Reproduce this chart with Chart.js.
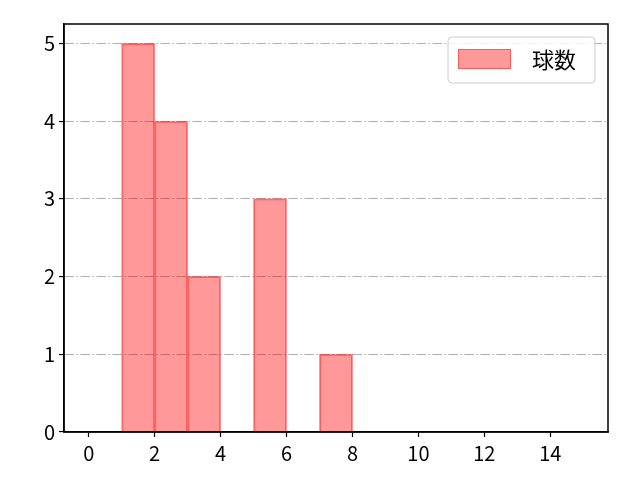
<!DOCTYPE html>
<html>
<head>
<meta charset="utf-8">
<script src="https://cdn.jsdelivr.net/npm/chart.js@4"></script>
<style>
html,body{margin:0;padding:0;background:#fff;}
#wrap{width:640px;height:480px;}
</style>
</head>
<body>
<div id="wrap"><canvas id="c" width="640" height="480"></canvas></div>
<script>
const binStarts = [0,1,2,3,4,5,6,7,8,9,10,11,12,13,14];
const counts    = [0,5,4,2,0,3,0,1,0,0,0,0,0,0,0];
const seriesLabel = '球数';
const xTicks = [0,2,4,6,8,10,12,14];
const yTicks = [0,1,2,3,4,5];

const FONT = '"Noto Sans CJK JP", "DejaVu Sans", sans-serif';
const FILL = 'rgba(255,0,0,0.4)';
const EDGE = 'rgba(255,0,0,0.42)';

const points = binStarts.map((s,i)=>({x:s+0.5, y:counts[i]}));

const framePlugin = {
  id:'frame',
  afterDraw(chart){
    const {ctx, chartArea:a} = chart;
    ctx.save();
    ctx.strokeStyle = '#000';
    ctx.lineWidth = 1.5;
    ctx.strokeRect(a.left, a.top, a.right-a.left, a.bottom-a.top);
    // legend
    const x0=448, y0=37, w=147, h=46, r=4;
    ctx.beginPath();
    ctx.moveTo(x0+r,y0);
    ctx.arcTo(x0+w,y0,x0+w,y0+h,r);
    ctx.arcTo(x0+w,y0+h,x0,y0+h,r);
    ctx.arcTo(x0,y0+h,x0,y0,r);
    ctx.arcTo(x0,y0,x0+w,y0,r);
    ctx.closePath();
    ctx.fillStyle='rgba(255,255,255,0.8)';
    ctx.fill();
    ctx.strokeStyle='#cccccc';
    ctx.lineWidth=1;
    ctx.stroke();
    ctx.fillStyle=FILL;
    ctx.fillRect(458,49,53,20);
    ctx.strokeStyle=EDGE;
    ctx.strokeRect(458.5,49.5,52,19);
    ctx.fillStyle='#000';
    ctx.font='22px '+FONT;
    ctx.textBaseline='middle';
    ctx.textAlign='left';
    ctx.fillText(chart.data.datasets[0].label, 532, 60);
    ctx.restore();
  }
};

new Chart(document.getElementById('c'), {
  type:'bar',
  data:{
    datasets:[{
      label: seriesLabel,
      data: points,
      backgroundColor: FILL,
      borderColor: EDGE,
      borderWidth: 1,
      inflateAmount: 0.5,
      barPercentage: 1,
      categoryPercentage: 1,
      grouped:false
    }]
  },
  options:{
    responsive:false,
    animation:false,
    devicePixelRatio:1,
    layout:{padding:{left:0,right:32,top:24,bottom:0}},
    plugins:{legend:{display:false}, tooltip:{enabled:false}},
    scales:{
      x:{
        type:'linear',
        offset:false,
        min:-0.75, max:15.75,
        afterBuildTicks(s){ s.ticks = xTicks.map(v=>({value:v})); },
        afterFit(s){ s.height = 48; },
        grid:{offset:false, drawOnChartArea:false, drawTicks:true, tickLength:5, tickColor:'#000', tickWidth:1.2},
        border:{display:true, color:'#000', width:1.5},
        ticks:{color:'#000', font:{family:FONT, size:20}, padding:4, maxRotation:0, autoSkip:false}
      },
      y:{
        min:0, max:5.25,
        afterBuildTicks(s){ s.ticks = yTicks.map(v=>({value:v})); },
        afterFit(s){ s.width = 64; },
        grid:{color:'#b0b0b0', lineWidth:1.1, drawTicks:true, tickLength:5, tickColor:'#000', tickWidth:1.2},
        border:{display:true, color:'#000', width:1.5, dash:[9.6,2.4,1.6,2.4]},
        ticks:{color:'#000', font:{family:FONT, size:20}, padding:4, autoSkip:false}
      }
    }
  },
  plugins:[framePlugin]
});
</script>
</body>
</html>
